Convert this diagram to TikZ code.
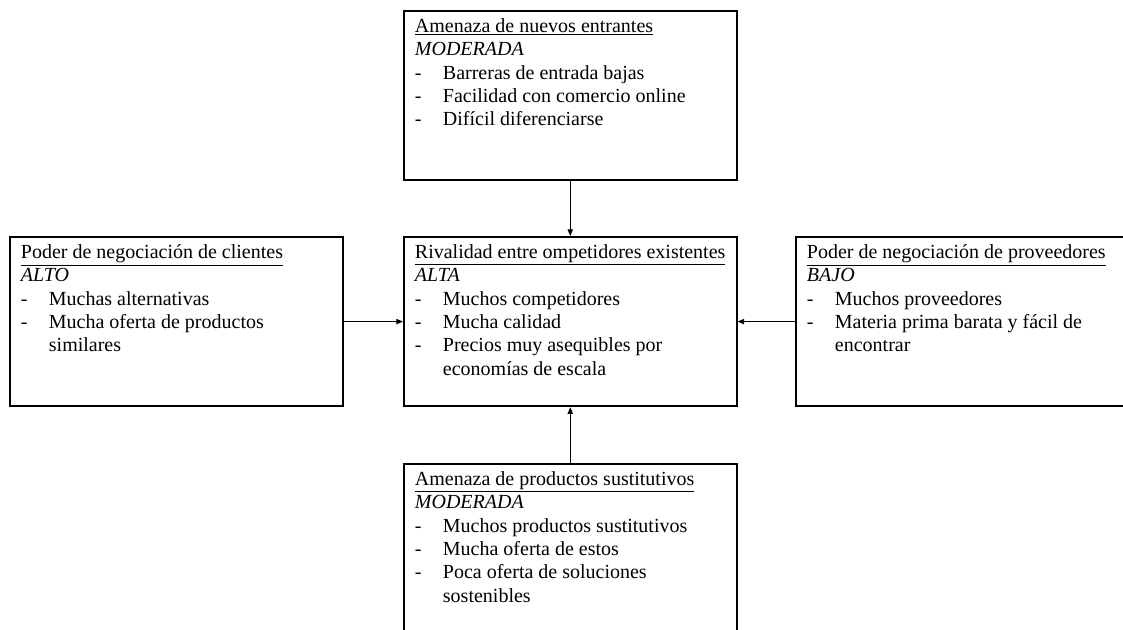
\documentclass[tikz,border=0pt]{standalone}
\usepackage{fontspec}
\setmainfont{Liberation Serif}
\usetikzlibrary{arrows.meta}
\newcommand{\guion}{\makebox[21pt][l]{-}}
\newcommand{\sangria}{\hspace*{21pt}}
\newcommand{\contenido}[1]{\parbox[t][119pt][t]{233pt}{%
  \begin{tabular}[t]{@{}l@{}}#1\end{tabular}}}
\tikzset{
  fuerza/.style ={draw, anchor=north west, line width=1.4pt,
                  inner xsep=8.25pt, inner ysep=4pt,
                  font=\fontsize{15}{17.5}\selectfont},
  flecha/.style ={-{Triangle[length=5pt,width=4pt]}, line width=0.7pt},
}

\begin{document}
\begin{tikzpicture}[x=0.75pt, y=-0.75pt]
  \useasboundingbox (0,0) rectangle (1123,630);
  % las cinco fuerzas
  \node[fuerza] (entrantes) at (403,10) {\contenido{%
    \underline{Amenaza de nuevos entrantes}\\
    \textit{MODERADA}\\
    \guion Barreras de entrada bajas\\
    \guion Facilidad con comercio online\\
    \guion Difícil diferenciarse}};
  \node[fuerza] (clientes) at (9,236) {\contenido{%
    \underline{Poder de negociación de clientes}\\
    \textit{ALTO}\\
    \guion Muchas alternativas\\
    \guion Mucha oferta de productos\\
    \sangria similares}};
  \node[fuerza] (rivalidad) at (403,236) {\contenido{%
    \underline{Rivalidad entre ompetidores existentes}\\
    \textit{ALTA}\\
    \guion Muchos competidores\\
    \guion Mucha calidad\\
    \guion Precios muy asequibles por\\
    \sangria economías de escala}};
  \node[fuerza] (proveedores) at (795,236) {\contenido{%
    \underline{Poder de negociación de proveedores}\\
    \textit{BAJO}\\
    \guion Muchos proveedores\\
    \guion Materia prima barata y fácil de\\
    \sangria encontrar}};
  \node[fuerza] (sustitutos) at (403,463) {\contenido{%
    \underline{Amenaza de productos sustitutivos}\\
    \textit{MODERADA}\\
    \guion Muchos productos sustitutivos\\
    \guion Mucha oferta de estos\\
    \guion Poca oferta de soluciones\\
    \sangria sostenibles}};

  \draw[flecha] (entrantes) -- (rivalidad);
  \draw[flecha] (clientes) -- (rivalidad);
  \draw[flecha] (proveedores) -- (rivalidad);
  \draw[flecha] (sustitutos) -- (rivalidad);
\end{tikzpicture}
\end{document}
